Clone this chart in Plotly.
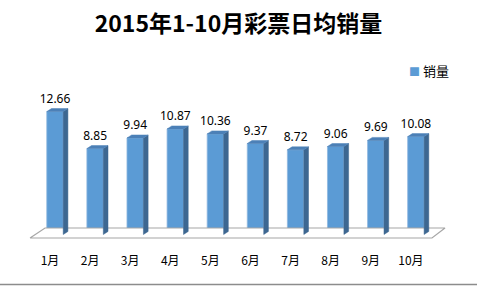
import plotly.graph_objects as go

# ---- data ----
months = ["1月", "2月", "3月", "4月", "5月", "6月", "7月", "8月", "9月", "10月"]
sales = [12.66, 8.85, 9.94, 10.87, 10.36, 9.37, 8.72, 9.06, 9.69, 10.08]
value_labels = ["12.66", "8.85", "9.94", "10.87", "10.36", "9.37", "8.72", "9.06", "9.69", "10.08"]
series_name = "销量"
title_text = "2015年1-10月彩票日均销量"

# ---- styling / geometry (pseudo 3-D) ----
W, H = 477, 286
FRONT = "#5B9BD5"
SIDE = "#3D6791"
TOP = "#4C80B7"
bar_w = 0.41          # front face width (category units)
dx, dy = 0.117, 0.31  # depth offset of bar (x units, y units)

xs = list(range(len(months)))

# side & top faces
side_x, side_y, top_x, top_y = [], [], [], []
for x, v in zip(xs, sales):
    r = x + bar_w / 2
    l = x - bar_w / 2
    side_x += [r, r + dx, r + dx, r, r, None]
    side_y += [0, dy, v + dy, v, 0, None]
    top_x += [l, r, r + dx, l + dx, l, None]
    top_y += [v, v, v + dy, v + dy, v, None]

# floor parallelogram
n = len(months)
floor_front_y, floor_back_y = -0.36, 0.67
fl, fr = -0.623, n - 1 + 0.401
bl, br = fl + 0.374, fr + 0.325
floor_x = [fl, fr, br, bl, fl]
floor_y = [floor_front_y, floor_front_y, floor_back_y, floor_back_y, floor_front_y]

fig = go.Figure()
fig.add_trace(go.Scatter(x=floor_x, y=floor_y, mode="lines", fill="toself",
                         fillcolor="rgba(255,255,255,1)",
                         line=dict(color="#A6A6A6", width=1.2),
                         hoverinfo="skip", showlegend=False))
fig.add_trace(go.Bar(x=xs, y=sales, width=bar_w, base=0, name=series_name,
                     marker=dict(color=FRONT, line=dict(color="#8FB8E0", width=0.8)),
                     showlegend=False, hoverinfo="skip"))
fig.add_trace(go.Scatter(x=side_x, y=side_y, mode="lines", fill="toself",
                         fillcolor=SIDE, line=dict(color=SIDE, width=0.5),
                         hoverinfo="skip", showlegend=False))
fig.add_trace(go.Scatter(x=top_x, y=top_y, mode="lines", fill="toself",
                         fillcolor=TOP, line=dict(color=TOP, width=0.5),
                         hoverinfo="skip", showlegend=False))
# value labels
fig.add_trace(go.Scatter(x=xs, y=[v + dy + 0.3 for v in sales], mode="text",
                         text=value_labels, textposition="top center",
                         textfont=dict(family="Noto Sans, Noto Sans CJK SC", size=12, color="#000000"),
                         hoverinfo="skip", showlegend=False))
# category labels
fig.add_trace(go.Scatter(x=[x - 0.125 for x in xs], y=[-2.85] * n, mode="text",
                         text=months, textposition="middle center",
                         textfont=dict(family="Noto Sans CJK SC", size=12, color="#000000"),
                         hoverinfo="skip", showlegend=False))

fig.update_layout(
    width=W, height=H,
    margin=dict(l=0, r=0, t=0, b=0),
    paper_bgcolor="white", plot_bgcolor="white",
    xaxis=dict(range=[-55 / 40.1, (W - 55) / 40.1], visible=False, fixedrange=True),
    yaxis=dict(range=[(234.5 - H) / 9.71, 234.5 / 9.71], visible=False, fixedrange=True),
    title=dict(text="<b>" + title_text + "</b>", x=0.5, xanchor="center",
               y=1 - 24 / H, yanchor="middle",
               font=dict(family="Noto Sans CJK SC", size=23, color="#000000")),
    showlegend=False,
    annotations=[dict(xref="paper", yref="paper", x=407 / W, y=1 - 70 / H,
                      xanchor="left", yanchor="middle", showarrow=False,
                      text='<span style="color:' + FRONT + ';font-size:11px">■</span> ' + series_name,
                      font=dict(family="Noto Sans CJK SC", size=13, color="#000000"))],
    shapes=[dict(type="line", xref="paper", yref="paper", x0=0, x1=1,
                 y0=1.5 / H, y1=1.5 / H, line=dict(color="#8C8C8C", width=1.5))],
)

fig.write_html("out.html")
